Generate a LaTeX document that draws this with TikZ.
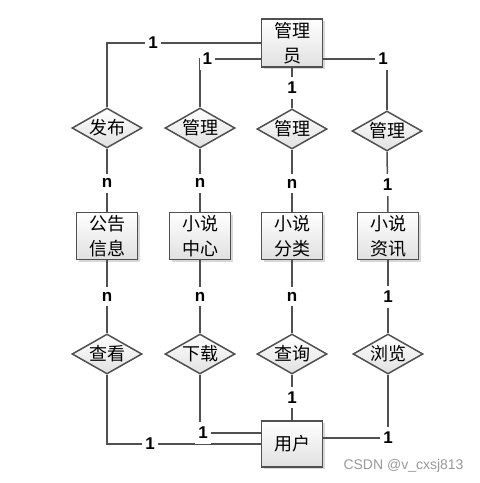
\documentclass[tikz,border=0pt]{standalone}
\usepackage{fontspec}
\newfontfamily\cjk{Noto Sans CJK SC}
\newfontfamily\labfont{Liberation Sans}
\usepackage{tikz}
\usetikzlibrary{positioning, shapes.geometric, shadows}
\definecolor{linegray}{HTML}{505050}
\tikzstyle{Entity} = [
	draw=linegray, line width=1.5pt,
	top color=white, bottom color=black!12,
	drop shadow={shadow xshift=2pt, shadow yshift=-2pt, fill=black!25, opacity=0.6},
	minimum width=61pt, minimum height=47pt, inner sep=0pt,
	align=center, font=\cjk\fontsize{18}{25}\selectfont
	]
\tikzstyle{Relation} = [
	diamond, aspect=1.75, draw=linegray, line width=1.5pt,
	top color=white, bottom color=black!12,
	minimum width=70pt, minimum height=40pt, inner sep=0pt,
	font=\cjk\fontsize{18}{22}\selectfont
	]
\tikzstyle{Line} = [draw=linegray, line width=1.5pt]
\tikzstyle{Card} = [
	fill=white, inner xsep=3pt, inner ysep=5pt,
	font=\labfont\bfseries\fontsize{17}{17}\selectfont
	]

\begin{document}
\begin{tikzpicture}[x=1pt, y=-1pt]
	\fill[white] (0,0) rectangle (480,483);
	\useasboundingbox (0,0) rectangle (480,483);
	%nodes:
		\node [Entity, minimum height=48pt] (1) at (292,43) {管理\\员};
		\node [Relation] (2) at (107,128) {发布};
		\node [Relation] (3) at (200,128) {管理};
		\node [Relation] (4) at (292,129) {管理};
		\node [Relation] (5) at (387,131) {管理};
		\node [Entity] (6) at (107,236) {公告\\信息};
		\node [Entity] (7) at (200,236) {小说\\中心};
		\node [Entity] (8) at (292,236) {小说\\分类};
		\node [Entity] (9) at (388,236) {小说\\资讯};
		\node [Relation] (10) at (107,354) {查看};
		\node [Relation] (11) at (200,354) {下载};
		\node [Relation] (12) at (292,354) {查询};
		\node [Relation] (13) at (388,354) {浏览};
		\node [Entity, minimum height=46pt] (14) at (292,444) {用户};
		\node [anchor=west, text=black!40, font=\labfont\fontsize{14}{14}\selectfont] (15) at (340,466) {CSDN @v\_cxsj813};
	%edges:
		\draw[Line] (1.west) -| node[Card, pos=0.35] {1} (2.north);
		\draw[Line] ([yshift=-16pt]1.west) -| node[Card, pos=0.44] {1} (3.north);
		\draw[Line] (1.south) -- node[Card] {1} (4.north);
		\draw[Line] ([yshift=-16pt]1.east) -| node[Card, pos=0.47] {1} (5.north);
		\draw[Line] (2.south) -- node[Card, pos=0.55] {n} (6.north);
		\draw[Line] (3.south) -- node[Card, pos=0.55] {n} (7.north);
		\draw[Line] (4.south) -- node[Card, pos=0.55] {n} (8.north);
		\draw[Line] (5.south) -- node[Card, pos=0.55] {1} (9.north);
		\draw[Line] (6.south) -- node[Card] {n} (10.north);
		\draw[Line] (7.south) -- node[Card] {n} (11.north);
		\draw[Line] (8.south) -- node[Card] {n} (12.north);
		\draw[Line] (9.south) -- node[Card] {1} (13.north);
		\draw[Line] (10.south) |- node[Card, pos=0.64] {1} (14.west);
		\draw[Line] (11.south) |- node[Card, xshift=3pt] {1} ([yshift=11pt]14.west);
		\draw[Line] (12.south) -- node[Card] {1} (14.north);
		\draw[Line] (13.south) |- node[Card] {1} ([yshift=6pt]14.east);
\end{tikzpicture}
\end{document}
